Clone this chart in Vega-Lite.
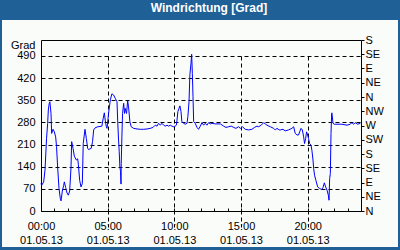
{
  "$schema": "https://vega.github.io/schema/vega-lite/v6.json",
  "width": 396,
  "height": 227,
  "autosize": {"type": "none"},
  "padding": {"left": 2, "top": 20, "right": 2, "bottom": 3},
  "background": "#1f6096",
  "title": {"text": "Windrichtung [Grad]", "color": "white", "font": "Liberation Sans", "fontSize": 12, "fontWeight": "bold", "anchor": "middle", "frame": "group", "offset": 0, "baseline": "middle", "dx": 9, "dy": 0},
  "view": {"fill": "#fafcfa", "stroke": null},
  "data": {"values": [
    {"minute": 0, "grad": 87}, {"minute": 3, "grad": 81}, {"minute": 12, "grad": 92}, {"minute": 18, "grad": 129},
    {"minute": 25, "grad": 229}, {"minute": 30, "grad": 277}, {"minute": 33, "grad": 319}, {"minute": 37, "grad": 340},
    {"minute": 40, "grad": 345}, {"minute": 45, "grad": 308}, {"minute": 48, "grad": 245}, {"minute": 54, "grad": 258},
    {"minute": 60, "grad": 250}, {"minute": 66, "grad": 234}, {"minute": 70, "grad": 203}, {"minute": 75, "grad": 137},
    {"minute": 81, "grad": 71}, {"minute": 87, "grad": 39}, {"minute": 90, "grad": 32}, {"minute": 96, "grad": 63},
    {"minute": 102, "grad": 81}, {"minute": 105, "grad": 92}, {"minute": 111, "grad": 74}, {"minute": 117, "grad": 57},
    {"minute": 123, "grad": 50}, {"minute": 129, "grad": 63}, {"minute": 135, "grad": 137}, {"minute": 138, "grad": 219},
    {"minute": 144, "grad": 198}, {"minute": 150, "grad": 173}, {"minute": 159, "grad": 161}, {"minute": 165, "grad": 165},
    {"minute": 168, "grad": 148}, {"minute": 174, "grad": 97}, {"minute": 180, "grad": 76}, {"minute": 186, "grad": 87},
    {"minute": 190, "grad": 213}, {"minute": 198, "grad": 258}, {"minute": 204, "grad": 229}, {"minute": 210, "grad": 198},
    {"minute": 214, "grad": 194}, {"minute": 226, "grad": 198}, {"minute": 232, "grad": 219}, {"minute": 237, "grad": 256},
    {"minute": 244, "grad": 263}, {"minute": 256, "grad": 266}, {"minute": 274, "grad": 268}, {"minute": 280, "grad": 293},
    {"minute": 285, "grad": 310}, {"minute": 289, "grad": 287}, {"minute": 294, "grad": 266}, {"minute": 297, "grad": 261},
    {"minute": 300, "grad": 279}, {"minute": 304, "grad": 308}, {"minute": 312, "grad": 351}, {"minute": 319, "grad": 370},
    {"minute": 327, "grad": 366}, {"minute": 334, "grad": 356}, {"minute": 342, "grad": 345}, {"minute": 345, "grad": 287},
    {"minute": 349, "grad": 224}, {"minute": 352, "grad": 187}, {"minute": 355, "grad": 139}, {"minute": 358, "grad": 124},
    {"minute": 360, "grad": 85}, {"minute": 361, "grad": 150}, {"minute": 364, "grad": 234}, {"minute": 367, "grad": 308},
    {"minute": 372, "grad": 340}, {"minute": 376, "grad": 308}, {"minute": 379, "grad": 324}, {"minute": 385, "grad": 308},
    {"minute": 390, "grad": 348}, {"minute": 394, "grad": 329}, {"minute": 400, "grad": 282}, {"minute": 406, "grad": 266},
    {"minute": 417, "grad": 261}, {"minute": 432, "grad": 259}, {"minute": 447, "grad": 258}, {"minute": 462, "grad": 258},
    {"minute": 477, "grad": 259}, {"minute": 492, "grad": 261}, {"minute": 504, "grad": 264}, {"minute": 514, "grad": 271},
    {"minute": 522, "grad": 268}, {"minute": 529, "grad": 277}, {"minute": 537, "grad": 271}, {"minute": 544, "grad": 277},
    {"minute": 552, "grad": 271}, {"minute": 559, "grad": 268}, {"minute": 567, "grad": 271}, {"minute": 574, "grad": 268},
    {"minute": 582, "grad": 271}, {"minute": 589, "grad": 268}, {"minute": 597, "grad": 266}, {"minute": 604, "grad": 268},
    {"minute": 609, "grad": 271}, {"minute": 612, "grad": 287}, {"minute": 616, "grad": 314}, {"minute": 621, "grad": 324},
    {"minute": 625, "grad": 332}, {"minute": 630, "grad": 314}, {"minute": 634, "grad": 282}, {"minute": 642, "grad": 277},
    {"minute": 649, "grad": 274}, {"minute": 657, "grad": 277}, {"minute": 661, "grad": 298}, {"minute": 666, "grad": 345},
    {"minute": 670, "grad": 430}, {"minute": 675, "grad": 467}, {"minute": 678, "grad": 495}, {"minute": 681, "grad": 435},
    {"minute": 684, "grad": 361}, {"minute": 687, "grad": 282}, {"minute": 694, "grad": 277}, {"minute": 702, "grad": 264},
    {"minute": 709, "grad": 258}, {"minute": 717, "grad": 268}, {"minute": 724, "grad": 279}, {"minute": 732, "grad": 271},
    {"minute": 739, "grad": 277}, {"minute": 747, "grad": 271}, {"minute": 754, "grad": 279}, {"minute": 762, "grad": 275},
    {"minute": 769, "grad": 277}, {"minute": 784, "grad": 275}, {"minute": 807, "grad": 275}, {"minute": 822, "grad": 268},
    {"minute": 832, "grad": 264}, {"minute": 844, "grad": 266}, {"minute": 856, "grad": 268}, {"minute": 867, "grad": 264},
    {"minute": 877, "grad": 261}, {"minute": 889, "grad": 266}, {"minute": 897, "grad": 261}, {"minute": 907, "grad": 266},
    {"minute": 919, "grad": 258}, {"minute": 934, "grad": 256}, {"minute": 949, "grad": 258}, {"minute": 961, "grad": 264},
    {"minute": 972, "grad": 268}, {"minute": 979, "grad": 266}, {"minute": 991, "grad": 271}, {"minute": 1002, "grad": 279},
    {"minute": 1009, "grad": 275}, {"minute": 1017, "grad": 271}, {"minute": 1032, "grad": 266}, {"minute": 1047, "grad": 261},
    {"minute": 1054, "grad": 256}, {"minute": 1062, "grad": 261}, {"minute": 1072, "grad": 256}, {"minute": 1077, "grad": 256},
    {"minute": 1089, "grad": 258}, {"minute": 1099, "grad": 253}, {"minute": 1114, "grad": 256}, {"minute": 1129, "grad": 261},
    {"minute": 1137, "grad": 266}, {"minute": 1144, "grad": 245}, {"minute": 1152, "grad": 240}, {"minute": 1159, "grad": 240},
    {"minute": 1164, "grad": 250}, {"minute": 1170, "grad": 261}, {"minute": 1176, "grad": 256}, {"minute": 1182, "grad": 234},
    {"minute": 1186, "grad": 213}, {"minute": 1191, "grad": 229}, {"minute": 1195, "grad": 250}, {"minute": 1200, "grad": 240},
    {"minute": 1204, "grad": 229}, {"minute": 1209, "grad": 213}, {"minute": 1215, "grad": 208}, {"minute": 1219, "grad": 192},
    {"minute": 1224, "grad": 161}, {"minute": 1227, "grad": 134}, {"minute": 1231, "grad": 113}, {"minute": 1237, "grad": 97},
    {"minute": 1245, "grad": 76}, {"minute": 1254, "grad": 71}, {"minute": 1263, "grad": 68}, {"minute": 1269, "grad": 74},
    {"minute": 1275, "grad": 89}, {"minute": 1281, "grad": 76}, {"minute": 1287, "grad": 66}, {"minute": 1293, "grad": 50},
    {"minute": 1296, "grad": 34}, {"minute": 1299, "grad": 103}, {"minute": 1302, "grad": 118}, {"minute": 1305, "grad": 245},
    {"minute": 1308, "grad": 308}, {"minute": 1309, "grad": 310}, {"minute": 1314, "grad": 277}, {"minute": 1320, "grad": 274},
    {"minute": 1332, "grad": 274}, {"minute": 1354, "grad": 274}, {"minute": 1377, "grad": 271}, {"minute": 1392, "grad": 274},
    {"minute": 1399, "grad": 279}, {"minute": 1407, "grad": 274}, {"minute": 1414, "grad": 279}, {"minute": 1425, "grad": 274},
    {"minute": 1437, "grad": 277}
  ]},
  "layer": [
    {
      "mark": {"type": "line", "color": "#0000ff", "strokeWidth": 1},
      "encoding": {
        "x": {"field": "minute", "type": "quantitative",
          "scale": {"domain": [0, 1440], "range": [39, 359], "nice": false, "zero": false},
          "axis": {"orient": "bottom", "offset": -36, "title": null,
            "values": [0,60,120,180,240,300,360,420,480,540,600,660,720,780,840,900,960,1020,1080,1140,1200,1260,1320,1380,1440],
            "labelExpr": "datum.value % 300 == 0 && datum.value < 1440 ? [(datum.value < 600 ? '0' : '') + (datum.value / 60) + ':00', '01.05.13'] : ''",
            "labelFont": "Liberation Sans", "labelFontSize": 11, "labelColor": "black", "labelLineHeight": 14,
            "labelPadding": 12, "labelOverlap": false, "labelFlush": false, "labelBaseline": "top",
            "domainColor": "black", "domainWidth": 1,
            "ticks": true, "tickColor": "black", "tickSize": -3, "tickWidth": 1,
            "grid": true, "gridColor": "black", "gridDash": [4, 3], "gridWidth": 1,
            "gridOpacity": {"condition": {"test": "datum.value % 300 == 0 && datum.value > 0 && datum.value < 1440", "value": 1}, "value": 0}
          }
        },
        "y": {"field": "grad", "type": "quantitative",
          "scale": {"domain": [0, 540], "range": [191, 20], "nice": false, "zero": false},
          "axis": {"orient": "left", "offset": -39,
            "values": [0, 70, 140, 210, 280, 350, 420, 490],
            "labelFont": "Liberation Sans", "labelFontSize": 11, "labelColor": "black", "labelPadding": 6,
            "labelOverlap": false, "labelFlush": false,
            "domainColor": "black", "domainWidth": 1, "ticks": false,
            "grid": true, "gridColor": "black", "gridDash": [4, 3], "gridWidth": 1,
            "title": "Grad", "titleAngle": 0, "titleFont": "Liberation Sans", "titleFontSize": 11, "titleFontWeight": "normal",
            "titleColor": "black", "titleAlign": "right", "titleBaseline": "middle", "titleX": -6, "titleY": 25
          }
        }
      }
    },
    {
      "mark": {"type": "line", "strokeOpacity": 0},
      "encoding": {
        "x": {"field": "minute", "type": "quantitative",
          "scale": {"domain": [0, 1440], "range": [39, 359], "nice": false, "zero": false},
          "axis": {"orient": "top", "offset": -20, "title": null, "labels": false, "ticks": false, "grid": false,
            "domainColor": "black", "domainWidth": 1}
        },
        "y": {"field": "grad", "type": "quantitative",
          "scale": {"domain": [0, 540], "range": [191, 20], "nice": false, "zero": false},
          "axis": {"orient": "right", "offset": -37, "title": null,
            "values": [0, 45, 90, 135, 180, 225, 270, 315, 360, 405, 450, 495, 540],
            "labelExpr": "['N','NE','E','SE','S','SW','W','NW'][(datum.value / 45) % 8]",
            "labelFont": "Liberation Sans", "labelFontSize": 11, "labelColor": "black", "labelPadding": 1,
            "labelOverlap": false, "labelFlush": false,
            "domainColor": "black", "domainWidth": 1,
            "ticks": true, "tickColor": "black", "tickSize": 3, "tickWidth": 1, "grid": false
          }
        }
      }
    }
  ],
  "resolve": {"axis": {"x": "independent", "y": "independent"}}
}
